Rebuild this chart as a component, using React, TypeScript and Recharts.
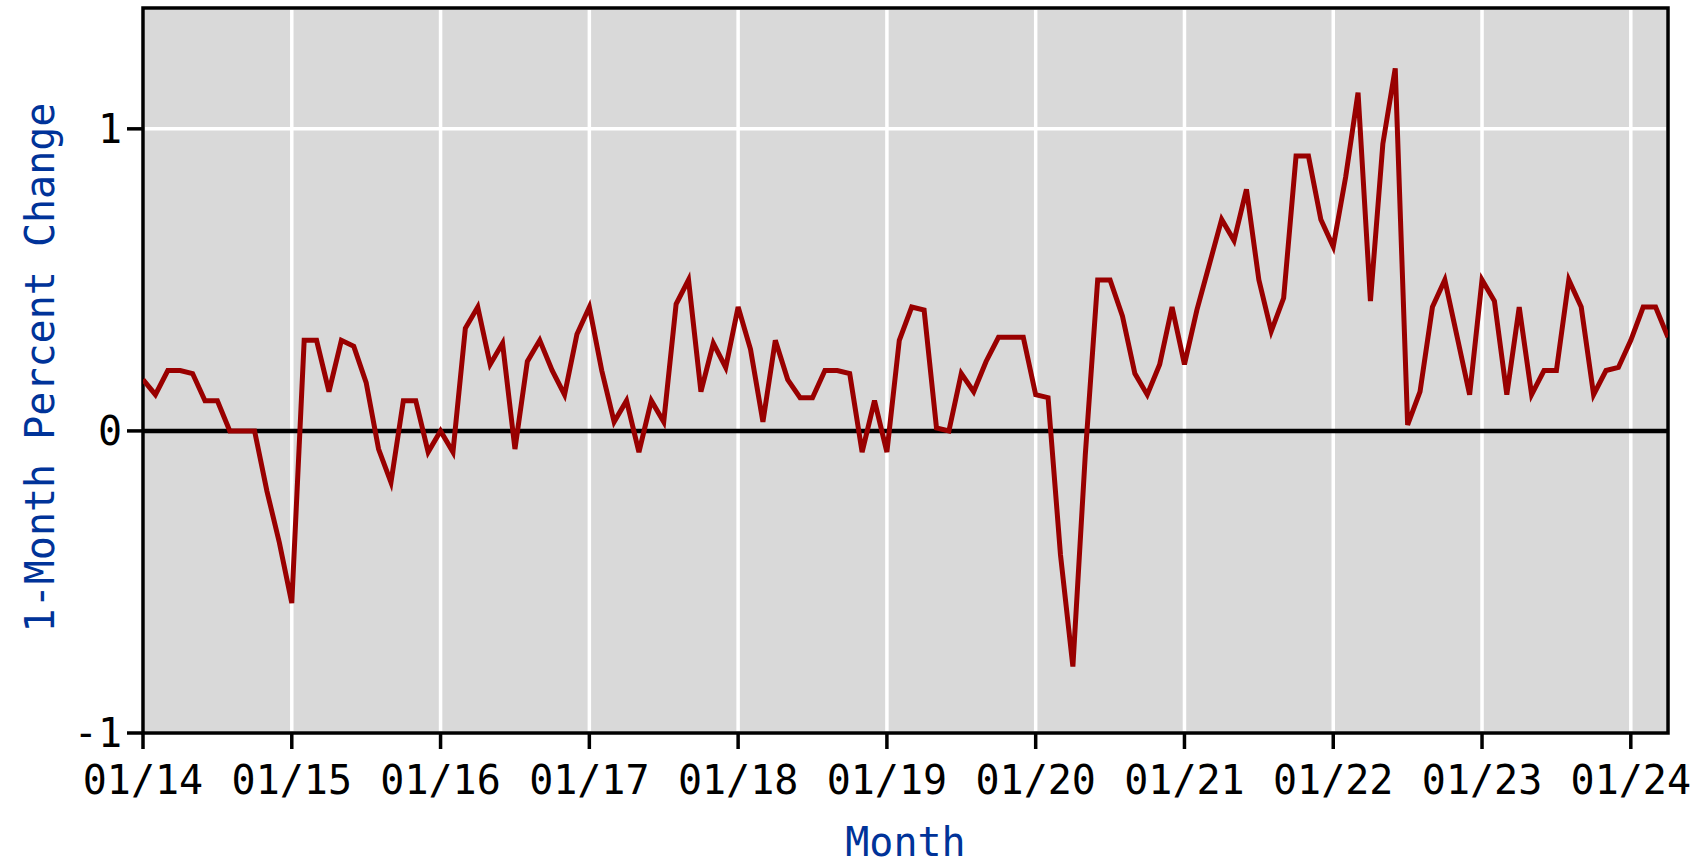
import {
  CartesianGrid,
  Label,
  Line,
  LineChart,
  ReferenceArea,
  ReferenceLine,
  XAxis,
  YAxis
} from "recharts";

// 1-month percent change, one array per year (Jan..Dec)
const change2014 = [0.17, 0.12, 0.2, 0.2, 0.19, 0.1, 0.1, 0.0, 0.0, 0.0, -0.2, -0.37];
const change2015 = [-0.57, 0.3, 0.3, 0.13, 0.3, 0.28, 0.16, -0.06, -0.17, 0.1, 0.1, -0.07];
const change2016 = [0.0, -0.07, 0.34, 0.41, 0.22, 0.29, -0.06, 0.23, 0.3, 0.2, 0.12, 0.32];
const change2017 = [0.41, 0.2, 0.03, 0.1, -0.07, 0.1, 0.03, 0.42, 0.5, 0.13, 0.29, 0.21];
const change2018 = [0.41, 0.27, 0.03, 0.3, 0.17, 0.11, 0.11, 0.2, 0.2, 0.19, -0.07, 0.1];
const change2019 = [-0.07, 0.3, 0.41, 0.4, 0.01, 0.0, 0.19, 0.13, 0.23, 0.31, 0.31, 0.31];
const change2020 = [0.12, 0.11, -0.41, -0.78, -0.08, 0.5, 0.5, 0.38, 0.19, 0.12, 0.22, 0.41];
const change2021 = [0.22, 0.4, 0.55, 0.7, 0.63, 0.8, 0.5, 0.33, 0.44, 0.91, 0.91, 0.7];
const change2022 = [0.61, 0.84, 1.12, 0.43, 0.95, 1.2, 0.02, 0.13, 0.41, 0.5, 0.31, 0.12];
const change2023 = [0.5, 0.43, 0.12, 0.41, 0.12, 0.2, 0.2, 0.5, 0.41, 0.12, 0.2, 0.21];
const change2024 = [0.3, 0.41, 0.41, 0.31];

const yearTickLabels = ["01/14", "01/15", "01/16", "01/17", "01/18", "01/19", "01/20", "01/21", "01/22", "01/23", "01/24"];
const valueTicks = [-1, 0, 1];

const series = [
  ...change2014,
  ...change2015,
  ...change2016,
  ...change2017,
  ...change2018,
  ...change2019,
  ...change2020,
  ...change2021,
  ...change2022,
  ...change2023,
  ...change2024
];
const data = series.map((value, month) => ({ month, value }));
const lastMonth = data.length - 1;
const monthTicks = yearTickLabels.map((_, i) => i * 12);

const FONT = "'DejaVu Sans Mono', 'Liberation Mono', monospace";
const TITLE_COLOR = "#003399";

export default function App() {
  return (
    <div style={{ position: "absolute", left: 0, top: 0, width: 1699, height: 868, background: "#fff" }}>
      <LineChart width={1699} height={868} data={data} margin={{ top: 8, right: 31, bottom: 0, left: 0 }}>
        <CartesianGrid fill="#d9d9d9" stroke="#ffffff" strokeWidth={3.5} />
        <XAxis
          dataKey="month"
          type="number"
          domain={[0, lastMonth]}
          ticks={monthTicks}
          interval={0}
          tickFormatter={(m: number) => yearTickLabels[Math.round(m / 12)]}
          height={135}
          tickSize={16}
          tickMargin={17}
          axisLine={false}
          tickLine={{ stroke: "#000", strokeWidth: 3.5 }}
          tick={{ fontFamily: FONT, fontSize: 40, fill: "#000" }}
          allowDataOverflow
        >
          <Label
            content={({ viewBox }: any) => (
              <text
                x={viewBox.x + viewBox.width / 2}
                y={viewBox.y + 123}
                textAnchor="middle"
                fontFamily={FONT}
                fontSize={40}
                fill={TITLE_COLOR}
              >
                Month
              </text>
            )}
          />
        </XAxis>
        <YAxis
          type="number"
          domain={[-1, 1.4]}
          ticks={valueTicks}
          interval={0}
          width={143}
          tickSize={16}
          tickMargin={5}
          axisLine={false}
          tickLine={{ stroke: "#000", strokeWidth: 3.5 }}
          tick={{ fontFamily: FONT, fontSize: 40, fill: "#000" }}
          allowDataOverflow
        >
          <Label
            content={({ viewBox }: any) => {
              const cx = 40;
              const cy = viewBox.y + viewBox.height / 2 - 3;
              return (
                <text
                  x={cx}
                  y={cy}
                  transform={`rotate(-90, ${cx}, ${cy})`}
                  textAnchor="middle"
                  dominantBaseline="central"
                  fontFamily={FONT}
                  fontSize={40}
                  fill={TITLE_COLOR}
                >
                  1-Month Percent Change
                </text>
              );
            }}
          />
        </YAxis>
        <ReferenceLine y={0} stroke="#000" strokeWidth={4.5} />
        <Line
          type="linear"
          dataKey="value"
          stroke="#990000"
          strokeWidth={5}
          strokeLinejoin="miter"
          dot={false}
          activeDot={false}
          isAnimationActive={false}
        />
        <ReferenceArea
          x1={0}
          x2={lastMonth}
          y1={-1}
          y2={1.4}
          fill="none"
          fillOpacity={0}
          stroke="#000"
          strokeWidth={3.5}
          ifOverflow="visible"
        />
      </LineChart>
    </div>
  );
}
